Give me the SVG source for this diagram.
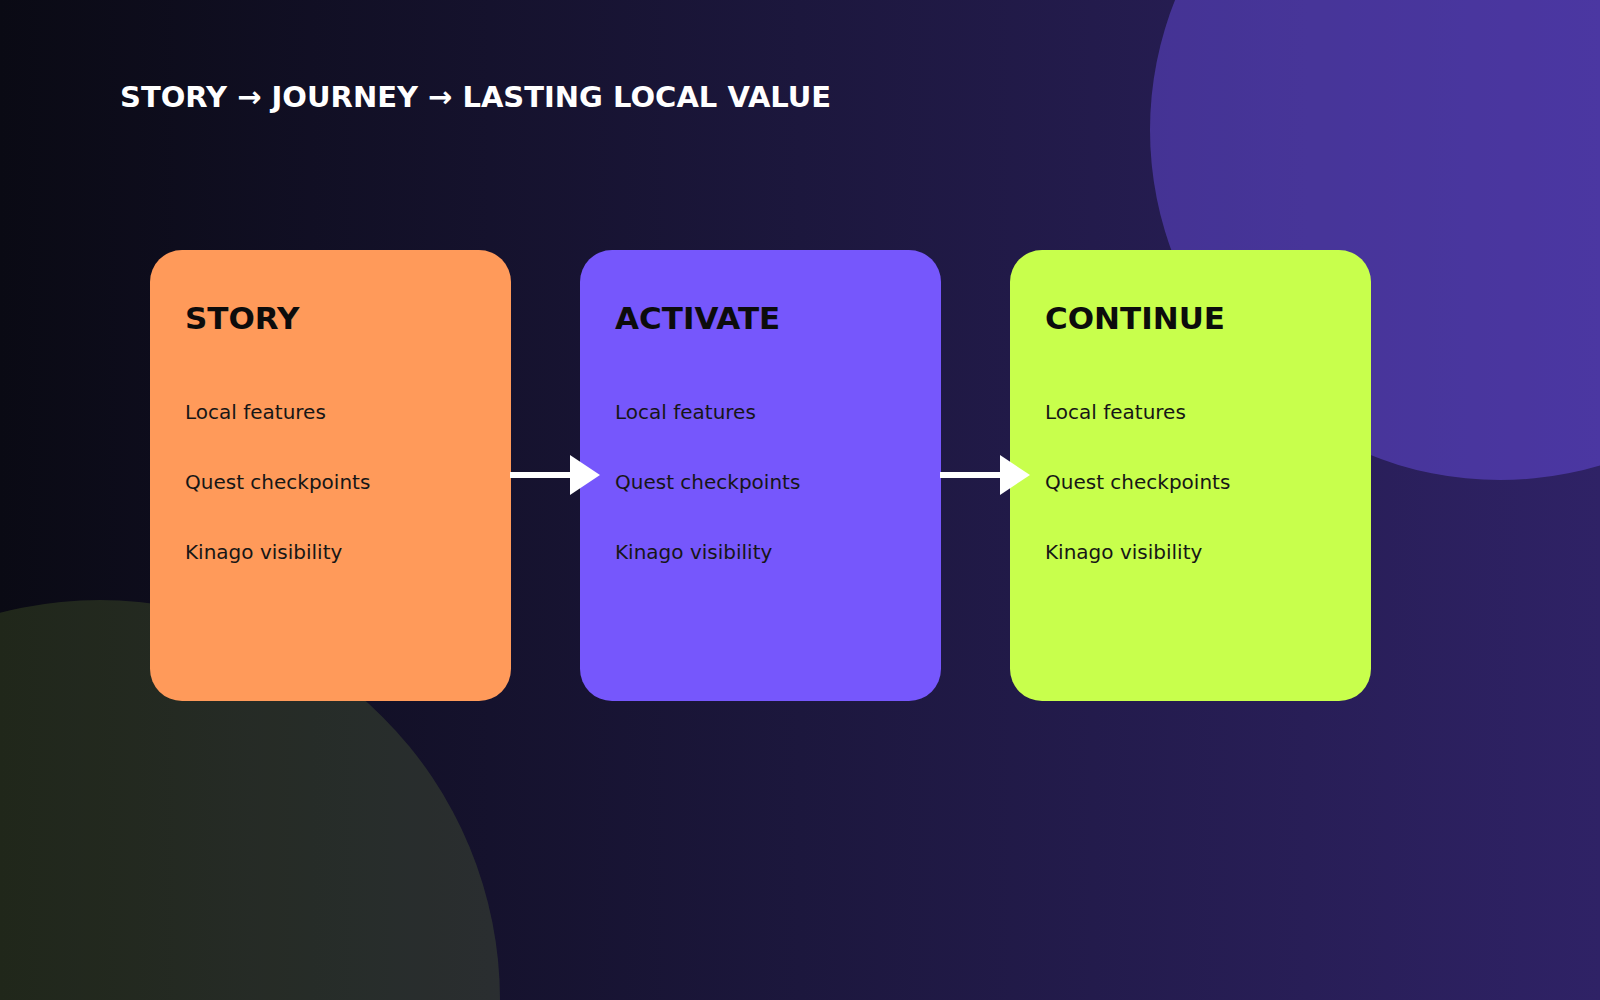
<svg xmlns="http://www.w3.org/2000/svg" width="1600" height="1000" viewBox="0 0 1600 1000">
  <defs>
    <linearGradient id="bg" x1="0" y1="0" x2="1" y2="0">
      <stop offset="0" stop-color="#0a0a14"/>
      <stop offset="0.5" stop-color="#1c173d"/>
      <stop offset="1" stop-color="#2f2266"/>
    </linearGradient>
    <marker id="ah" viewBox="0 0 30 40" refX="0" refY="20" markerWidth="30" markerHeight="40" markerUnits="userSpaceOnUse" orient="auto">
      <polygon points="0,0 30,20 0,40" fill="#ffffff"/>
    </marker>
    <style>
      .head { font-family: "DejaVu Sans", sans-serif; font-weight: bold; font-size: 31px; fill: #0c0c0c; }
      .item { font-family: "DejaVu Sans", sans-serif; font-size: 20px; fill: #161616; }
      .title { font-family: "DejaVu Sans", sans-serif; font-weight: bold; font-size: 29px; fill: #ffffff; }
      .conn { stroke: #ffffff; stroke-width: 6; fill: none; }
    </style>
  </defs>
  <rect x="0" y="0" width="1600" height="1000" fill="url(#bg)"/>
  <circle cx="1500" cy="130" r="350" fill="#7657fc" opacity="0.4"/>
  <circle cx="100" cy="1000" r="400" fill="#c8ff4c" opacity="0.12"/>

  <text class="title" x="120" y="107">STORY → JOURNEY → LASTING LOCAL VALUE</text>

  <g id="node-story">
    <rect x="150" y="250" width="361" height="451" rx="32" fill="#ff9a5a"/>
    <text class="head" x="185" y="329">STORY</text>
    <text class="item" x="185" y="419">Local features</text>
    <text class="item" x="185" y="489">Quest checkpoints</text>
    <text class="item" x="185" y="559">Kinago visibility</text>
  </g>
  <g id="node-activate">
    <rect x="580" y="250" width="361" height="451" rx="32" fill="#7657fc"/>
    <text class="head" x="615" y="329">ACTIVATE</text>
    <text class="item" x="615" y="419">Local features</text>
    <text class="item" x="615" y="489">Quest checkpoints</text>
    <text class="item" x="615" y="559">Kinago visibility</text>
  </g>
  <g id="node-continue">
    <rect x="1010" y="250" width="361" height="451" rx="32" fill="#c8ff4c"/>
    <text class="head" x="1045" y="329">CONTINUE</text>
    <text class="item" x="1045" y="419">Local features</text>
    <text class="item" x="1045" y="489">Quest checkpoints</text>
    <text class="item" x="1045" y="559">Kinago visibility</text>
  </g>

  <g id="connectors">
    <line class="conn" x1="510" y1="475" x2="570" y2="475" marker-end="url(#ah)"/>
    <line class="conn" x1="940" y1="475" x2="1000" y2="475" marker-end="url(#ah)"/>
  </g>
</svg>
